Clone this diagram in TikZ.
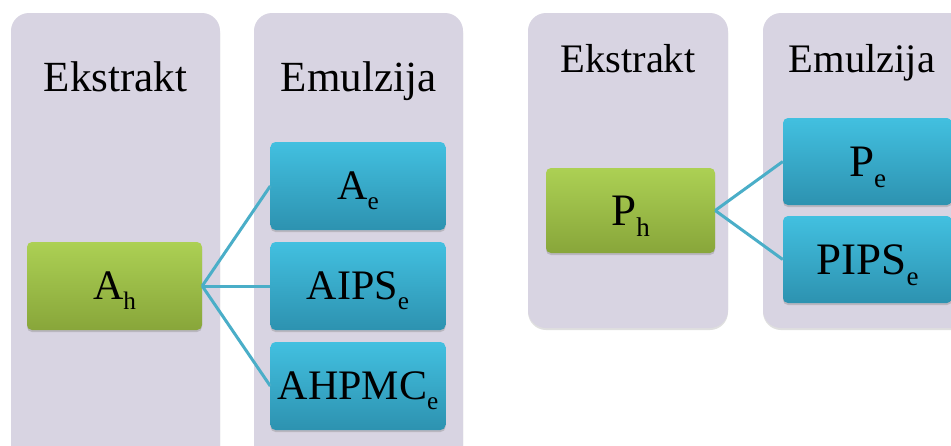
\documentclass[tikz,border=0pt]{standalone}
\usepackage{fontspec}
\setmainfont{Liberation Serif}
\usetikzlibrary{shadows}
\definecolor{panelgray}{RGB}{216,212,226}
\definecolor{bluetop}{RGB}{66,192,224}
\definecolor{bluebot}{RGB}{45,146,176}
\definecolor{greentop}{RGB}{172,208,84}
\definecolor{greenbot}{RGB}{136,166,58}
\definecolor{linkblue}{RGB}{74,174,200}
\newcommand\idx[1]{\smash{\raisebox{-0.24em}{\scalebox{0.6}{#1}}}}
\begin{document}
\begin{tikzpicture}[x=1pt, y=-1pt,
    panel/.style={fill=panelgray, rounded corners=18pt,
      drop shadow={shadow xshift=0pt, shadow yshift=-2pt, opacity=0.25}},
    head/.style={font=\fontsize{43}{50}\selectfont, text height=28.4pt, text depth=0pt},
    greenbox/.style={rectangle, rounded corners=5pt, top color=greentop, bottom color=greenbot,
      minimum width=175pt, minimum height=88pt, inner sep=0pt,
      text height=27.7pt, text depth=0pt, font=\fontsize{42}{50}\selectfont,
      drop shadow={shadow xshift=0pt, shadow yshift=-2pt, opacity=0.35}},
    bluebox/.style={greenbox, top color=bluetop, bottom color=bluebot},
    link/.style={draw=linkblue, line width=3pt}]
  \clip (0,0) rectangle (951,445);
  \fill[white] (0,0) rectangle (951,445);

  % left diagram
  \fill[panel] (11,13) rectangle (220,470);
  \fill[panel] (254,13) rectangle (463,470);
  \node[head] (hk1) at (115.5,77.5) {Ekstrakt};
  \node[head] (he1) at (358.5,77.5) {Emulzija};
  \node[greenbox]
    (ah) at (114.5,286) {A\idx{h}};
  \node[bluebox]
    (ae) at (358,186) {A\idx{e}};
  \node[bluebox]
    (aips) at (358,286) {AIPS\idx{e}};
  \node[bluebox]
    (ahpmc) at (358,386) {AHPMC\idx{e}};
  \draw[link] (ah.east) -- (ae.west);
  \draw[link] (ah.east) -- (aips.west);
  \draw[link] (ah.east) -- (ahpmc.west);

  % right diagram
  \fill[panel] (528,13) rectangle (728,328);
  \fill[panel] (763,13) rectangle (990,328);
  \node[head, font=\fontsize{40.5}{48}\selectfont, text height=26.7pt] (hk2) at (628,59.5) {Ekstrakt};
  \node[head, font=\fontsize{40.5}{48}\selectfont, text height=26.7pt] (he2) at (862,59.5) {Emulzija};
  \node[greenbox, minimum width=169pt, minimum height=85pt, font=\fontsize{45}{52}\selectfont, text height=29.7pt]
    (ph) at (630.5,210.5) {P\idx{h}};
  \node[bluebox, minimum width=169pt, minimum height=87pt, font=\fontsize{45}{52}\selectfont, text height=29.7pt]
    (pe) at (867.5,161.5) {P\idx{e}};
  \node[bluebox, minimum width=169pt, minimum height=87pt, font=\fontsize{45}{52}\selectfont, text height=29.7pt]
    (pips) at (867.5,259.5) {PIPS\idx{e}};
  \draw[link] (ph.east) -- (pe.west);
  \draw[link] (ph.east) -- (pips.west);
\end{tikzpicture}
\end{document}
